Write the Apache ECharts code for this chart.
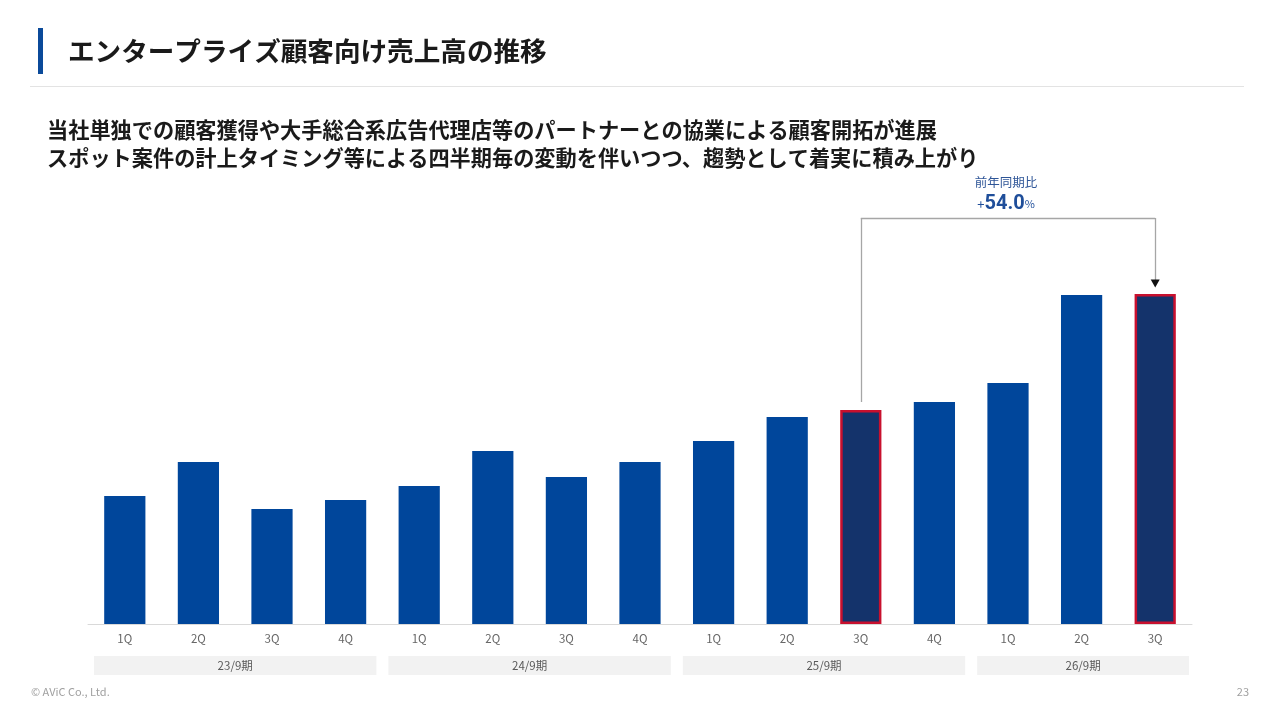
<!DOCTYPE html>
<html>
<head>
<meta charset="utf-8">
<script src="https://cdn.jsdelivr.net/npm/echarts@6/dist/echarts.min.js"></script>
<style>
html,body{margin:0;padding:0;background:#fff;}
#c{width:1280px;height:720px;}
</style>
</head>
<body>
<div id="c"></div>
<script>
// ---- data ----
const quarters = ['1Q','2Q','3Q','4Q','1Q','2Q','3Q','4Q','1Q','2Q','3Q','4Q','1Q','2Q','3Q'];
const sales = [128,162,115,124,138,173,147,162,183,207,214,222,241,329,330];
const periods = ['23/9期','24/9期','25/9期','26/9期'];
const periodStart = [0,4,8,12];
const periodEnd = [3,7,11,14];
const highlightIdx = [10,14];
const yoyLabel = '前年同期比';
const yoyValue = '54.0';

const FONT = '"Noto Sans CJK JP", "Noto Sans", sans-serif';
const chart = echarts.init(document.getElementById('c'));

const barData = sales.map((v,i)=> highlightIdx.indexOf(i)>=0 ? {
  value:v, itemStyle:{color:'#14336b', borderColor:'#c8102e', borderWidth:2.5}
} : v);

const lineStyle = {color:'#a6a6a6', width:1.3, type:'solid'};
const fromIdx = highlightIdx[0], toIdx = highlightIdx[1];
const bracketY = 406;

chart.setOption({
  animation:false,
  textStyle:{fontFamily:FONT},
  grid:{left:88,right:88,top:204,bottom:96},
  xAxis:{
    type:'category', data:quarters,
    axisLine:{lineStyle:{color:'#d9d9d9',width:1}},
    axisTick:{show:false},
    axisLabel:{color:'#666666',fontSize:11.5,margin:9,fontFamily:FONT}
  },
  yAxis:{type:'value',min:0,max:420,show:false,splitLine:{show:false}},
  series:[{
    type:'bar', data:barData, barWidth:'56%',
    itemStyle:{color:'#00469b'},
    markLine:{
      silent:true, symbol:['none','none'], label:{show:false}, lineStyle:lineStyle,
      data:[
        [{coord:[fromIdx, sales[fromIdx]+8]},{coord:[fromIdx, bracketY]}],
        [{coord:[fromIdx, bracketY]},{coord:[toIdx, bracketY]}],
        [{coord:[toIdx, bracketY]},{coord:[toIdx, sales[toIdx]+14]}]
      ]
    },
    markPoint:{
      silent:true, symbol:'triangle', symbolSize:[9,8], symbolRotate:180,
      itemStyle:{color:'#111'}, label:{show:false},
      data:[{coord:[toIdx, sales[toIdx]+10.5]}]
    }
  }]
});

function pt(i,v){ return chart.convertToPixel({gridIndex:0},[i,v]); }
const baseY = pt(0,0)[1];
const step = pt(1,0)[0]-pt(0,0)[0];
const graphics = [];

// header
graphics.push({type:'rect',shape:{x:38,y:28,width:5,height:46},style:{fill:'#0b4a9a'}});
graphics.push({type:'text',x:68,y:51,style:{text:'エンタープライズ顧客向け売上高の推移',font:'bold 26.6px '+FONT,fill:'#1a1a1a',textVerticalAlign:'middle'}});
graphics.push({type:'rect',shape:{x:30,y:86,width:1214,height:1},style:{fill:'#e3e3e3'}});
graphics.push({type:'text',x:47,y:130,style:{text:'当社単独での顧客獲得や大手総合系広告代理店等のパートナーとの協業による顧客開拓が進展',font:'bold 21.2px '+FONT,fill:'#1a1a1a',textVerticalAlign:'middle'}});
graphics.push({type:'text',x:47,y:158,style:{text:'スポット案件の計上タイミング等による四半期毎の変動を伴いつつ、趨勢として着実に積み上がり',font:'bold 21.2px '+FONT,fill:'#1a1a1a',textVerticalAlign:'middle'}});

// period bands
periods.forEach((p,k)=>{
  const x0 = pt(periodStart[k],0)[0] - step/2 + 6;
  const x1 = pt(periodEnd[k],0)[0] + step/2 - (k===periods.length-1?3:6);
  graphics.push({type:'rect',shape:{x:x0,y:baseY+32,width:x1-x0,height:19},style:{fill:'#f2f2f2'}});
  graphics.push({type:'text',x:(x0+x1)/2,y:baseY+41.5,style:{text:p,font:'11.5px '+FONT,fill:'#595959',textAlign:'center',textVerticalAlign:'middle'}});
});

// yoy annotation
const midX = (pt(fromIdx,0)[0]+pt(toIdx,0)[0])/2 - 2;
const lineY = pt(0,bracketY)[1];
graphics.push({type:'text',x:midX,y:lineY-36,style:{text:yoyLabel,font:'12.5px '+FONT,fill:'#2e5597',textAlign:'center',textVerticalAlign:'middle'}});
graphics.push({type:'text',x:midX,y:lineY-14,style:{
  text:'{s|+}{b|'+yoyValue+'}{p|%}',textAlign:'center',textVerticalAlign:'middle',
  rich:{
    s:{fontSize:13,fill:'#1f4e9a',fontFamily:FONT},
    b:{fontSize:20,fontWeight:'bold',fill:'#1f4e9a',fontFamily:'Roboto, "Noto Sans", sans-serif'},
    p:{fontSize:11,fill:'#1f4e9a',fontFamily:FONT}
  }
}});

// footer
graphics.push({type:'text',x:31,y:692,style:{text:'© AViC Co., Ltd.',font:'11px '+FONT,fill:'#a0a0a0',textVerticalAlign:'middle'}});
graphics.push({type:'text',x:1249,y:692,style:{text:'23',font:'11px '+FONT,fill:'#a0a0a0',textAlign:'right',textVerticalAlign:'middle'}});

chart.setOption({graphic:graphics});
</script>
</body>
</html>
